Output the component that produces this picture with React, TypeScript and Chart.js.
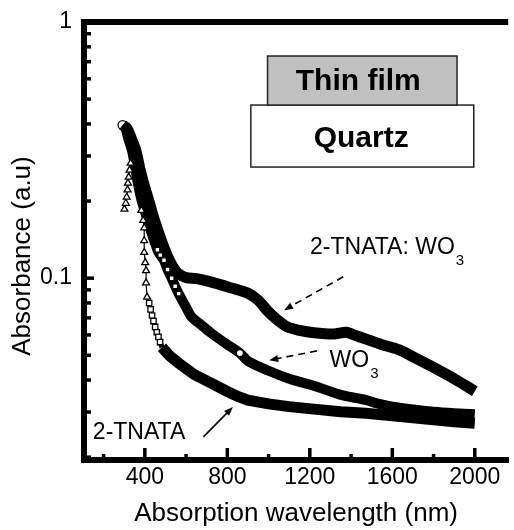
import React, { useEffect, useRef } from 'react';
import { Chart, registerables } from 'chart.js';

Chart.register(...registerables);

// ---- data (wavelength nm, absorbance a.u.) ----
const TNATA_WO3_X = [292, 313, 335, 356, 375, 394, 420, 442, 470, 497, 520, 545, 565, 600, 650, 741, 820, 899, 950, 995, 1040, 1091, 1150, 1220, 1316, 1378, 1420, 1473, 1550, 1631, 1713, 1800, 1900, 2000];
const TNATA_WO3_Y = [0.396, 0.385, 0.35, 0.316, 0.27, 0.235, 0.2, 0.173, 0.148, 0.129, 0.117, 0.108, 0.1037, 0.1005, 0.0995, 0.0956, 0.0915, 0.0874, 0.082, 0.0745, 0.069, 0.0645, 0.0625, 0.0612, 0.0605, 0.0615, 0.0598, 0.0578, 0.055, 0.0526, 0.0487, 0.0448, 0.0405, 0.0362];

const WO3_X = [292, 304, 320, 337, 350, 366, 385, 409, 435, 461, 475, 493, 510, 530, 547, 564, 600, 627, 670, 722, 800, 861, 899, 1000, 1100, 1220, 1350, 1470, 1520, 1600, 1700, 1800, 1900, 2000];
const WO3_Y = [0.396, 0.389, 0.35, 0.316, 0.28, 0.235, 0.2, 0.173, 0.148, 0.129, 0.123, 0.1175, 0.108, 0.1, 0.093, 0.087, 0.077, 0.0705, 0.066, 0.061, 0.055, 0.051, 0.0475, 0.0435, 0.0405, 0.038, 0.035, 0.0335, 0.0325, 0.0315, 0.0307, 0.0301, 0.0297, 0.0294];

const TNATA_X = [301, 308, 312, 316, 318, 322, 326, 331, 345, 360, 372, 383, 392, 397, 397, 397, 402, 406, 406, 411, 421, 428, 435, 442, 450, 458, 466, 474, 483, 520, 564, 640, 722, 800, 851, 900, 1000, 1100, 1220, 1350, 1473, 1600, 1700, 1800, 1900, 2000];
const TNATA_Y = [0.186, 0.196, 0.207, 0.221, 0.235, 0.248, 0.264, 0.281, 0.255, 0.225, 0.2, 0.184, 0.168, 0.157, 0.14, 0.126, 0.115, 0.107, 0.0958, 0.0843, 0.08, 0.0755, 0.0715, 0.068, 0.0645, 0.0615, 0.059, 0.0563, 0.0537, 0.0498, 0.0466, 0.042, 0.0389, 0.0361, 0.0345, 0.0334, 0.0323, 0.0315, 0.0308, 0.0301, 0.0297, 0.029, 0.0285, 0.028, 0.0275, 0.0271];

// ---- axes ----
const X_MIN = 105;
const X_MAX = 2162;
const Y_MIN = 0.0195;
const Y_MAX = 1;
const X_TICKS = [200, 400, 600, 800, 1000, 1200, 1400, 1600, 1800, 2000];
const X_LABELED = [400, 800, 1200, 1600, 2000];
const Y_TICKS = [0.02, 0.03, 0.04, 0.05, 0.06, 0.07, 0.08, 0.09, 0.1, 0.2, 0.3, 0.4, 0.5, 0.6, 0.7, 0.8, 0.9, 1];
const Y_LABELED = [0.1, 1];

const X_TITLE = 'Absorption wavelength (nm)';
const Y_TITLE = 'Absorbance (a.u)';

const FONT = '"Liberation Sans", Arial, Helvetica, sans-serif';

// ---- annotations (in data coordinates) ----
const BOXES = [
  { x0: 914, x1: 1995, y0: 0.474, y1: 0.2715, fill: '#ffffff', label: 'Quartz', lx: 1449, ly: 0.3248 },
  { x0: 995, x1: 1914, y0: 0.7366, y1: 0.474, fill: '#c0c0c0', label: 'Thin film', lx: 1435, ly: 0.5425 },
];
const LABELS = [
  { text: '2-TNATA: WO', sub: '3', x: 1201, y: 0.1241 },
  { text: 'WO', sub: '3', x: 1296, y: 0.0449 },
  { text: '2-TNATA', sub: '', x: 148, y: 0.0235 },
];
const ARROWS = [
  { x0: 1362, y0: 0.1012, x1: 1075, y1: 0.075, dashed: true },
  { x0: 1234, y0: 0.052, x1: 1003, y1: 0.0478, dashed: true },
  { x0: 684, y0: 0.024, x1: 827, y1: 0.0314, dashed: false },
];

const toPoints = (xs: number[], ys: number[]) => xs.map((x, i) => ({ x, y: ys[i] }));

const decorPlugin = {
  id: 'decor',
  afterDraw(chart: any) {
    const { ctx, chartArea, scales } = chart;
    const xs = scales.x;
    const ys = scales.y;
    const px = (v: number) => xs.getPixelForValue(v);
    const py = (v: number) => ys.getPixelForValue(v);
    const { left, top, right, bottom } = chartArea;
    ctx.save();

    // top frame line
    ctx.strokeStyle = '#000';
    ctx.lineWidth = 6;
    ctx.beginPath();
    ctx.moveTo(left - 3, top);
    ctx.lineTo(right, top);
    ctx.stroke();

    // inward ticks
    ctx.lineWidth = 3.5;
    for (const t of ys.ticks) {
      const y = py(t.value);
      const len = Y_LABELED.includes(t.value) ? 10 : 7;
      ctx.beginPath();
      ctx.moveTo(left, y);
      ctx.lineTo(left + len, y);
      ctx.stroke();
    }
    for (const t of xs.ticks) {
      const x = px(t.value);
      const len = X_LABELED.includes(t.value) ? 12 : 6;
      ctx.beginPath();
      ctx.moveTo(x, bottom);
      ctx.lineTo(x, bottom - len);
      ctx.stroke();
    }

    // boxes
    for (const b of BOXES) {
      const x0 = px(b.x0), x1 = px(b.x1), y0 = py(b.y0), y1 = py(b.y1);
      ctx.fillStyle = b.fill;
      ctx.fillRect(x0, y0, x1 - x0, y1 - y0);
      ctx.strokeStyle = '#222';
      ctx.lineWidth = 1.5;
      ctx.strokeRect(x0, y0, x1 - x0, y1 - y0);
      ctx.fillStyle = '#000';
      ctx.font = `bold 30px ${FONT}`;
      ctx.textAlign = 'center';
      ctx.textBaseline = 'alphabetic';
      ctx.fillText(b.label, px(b.lx), py(b.ly));
    }

    // labels with subscripts
    ctx.fillStyle = '#000';
    ctx.textAlign = 'left';
    ctx.textBaseline = 'alphabetic';
    for (const l of LABELS) {
      const x = px(l.x), y = py(l.y);
      ctx.font = `23px ${FONT}`;
      ctx.fillText(l.text, x, y);
      if (l.sub) {
        const w = ctx.measureText(l.text).width;
        ctx.font = `15px ${FONT}`;
        ctx.fillText(l.sub, x + w + 1, y + 11);
      }
    }

    // arrows
    for (const a of ARROWS) {
      const x0 = px(a.x0), y0 = py(a.y0), x1 = px(a.x1), y1 = py(a.y1);
      const ang = Math.atan2(y1 - y0, x1 - x0);
      const head = 9;
      ctx.strokeStyle = '#000';
      ctx.lineWidth = 1.6;
      ctx.setLineDash(a.dashed ? [7, 5] : []);
      ctx.beginPath();
      ctx.moveTo(x0, y0);
      ctx.lineTo(x1 - Math.cos(ang) * head * 0.8, y1 - Math.sin(ang) * head * 0.8);
      ctx.stroke();
      ctx.setLineDash([]);
      ctx.fillStyle = '#000';
      ctx.beginPath();
      ctx.moveTo(x1, y1);
      ctx.lineTo(x1 - head * Math.cos(ang) + 3.5 * Math.sin(ang), y1 - head * Math.sin(ang) - 3.5 * Math.cos(ang));
      ctx.lineTo(x1 - head * Math.cos(ang) - 3.5 * Math.sin(ang), y1 - head * Math.sin(ang) + 3.5 * Math.cos(ang));
      ctx.closePath();
      ctx.fill();
    }

    // y axis title
    ctx.save();
    ctx.translate(left - 61, (top + bottom) / 2 + 15);
    ctx.rotate(-Math.PI / 2);
    ctx.font = `26px ${FONT}`;
    ctx.textAlign = 'center';
    ctx.textBaseline = 'middle';
    ctx.fillStyle = '#000';
    ctx.fillText(Y_TITLE, 0, 0);
    ctx.restore();

    ctx.restore();
  },
};

export default function App() {
  const ref = useRef<HTMLCanvasElement>(null);
  useEffect(() => {
    const canvas = ref.current;
    if (!canvas) return;
    const chart = new Chart(canvas, {
      type: 'line',
      data: {
        datasets: [
          {
            label: '2-TNATA',
            data: toPoints(TNATA_X, TNATA_Y),
            borderColor: '#000',
            borderWidth: 11,
            tension: 0,
            segment: {
              borderWidth: (c: any) => {
                const x = TNATA_X[c.p1DataIndex];
                return x <= 450 ? 1.2 : x <= 483 ? 5 : 11;
              },
            },
            pointStyle: (c: any) => ((TNATA_X[c.dataIndex] ?? 0) < 415 ? 'triangle' : 'rect'),
            pointRadius: (c: any) => {
              const x = TNATA_X[c.dataIndex];
              if (x === undefined) return 0;
              if (x <= 331 || (x >= 383 && x < 415)) return 4;
              if (x >= 415 && x < 483) return 3.8;
              return 0;
            },
            pointBackgroundColor: '#fff',
            pointBorderColor: '#000',
            pointBorderWidth: 1.3,
          },
          {
            label: 'WO3',
            data: toPoints(WO3_X, WO3_Y),
            borderColor: '#000',
            borderWidth: 10,
            tension: 0.3,
            pointStyle: (c: any) => ((WO3_X[c.dataIndex] ?? 0) > 800 ? 'circle' : 'rect'),
            pointRadius: (c: any) => {
              const x = WO3_X[c.dataIndex];
              if (x === undefined) return 0;
              if (x >= 461 && x <= 564) return 3.3;
              if (x === 861) return 3.5;
              return 0;
            },
            pointBackgroundColor: '#fff',
            pointBorderColor: '#000',
            pointBorderWidth: 1.2,
          },
          {
            label: '2-TNATA: WO3',
            data: toPoints(TNATA_WO3_X, TNATA_WO3_Y),
            borderColor: '#000',
            borderWidth: 11,
            tension: 0.3,
            pointStyle: 'circle',
            pointRadius: (c: any) => (c.dataIndex === 0 ? 4.5 : 0),
            pointBackgroundColor: '#fff',
            pointBorderColor: '#000',
            pointBorderWidth: 1.3,
          },
        ],
      },
      options: {
        responsive: false,
        animation: false,
        events: [],
        layout: { padding: { top: 22, left: 0, right: 0, bottom: 0 } },
        plugins: { legend: { display: false }, tooltip: { enabled: false } },
        scales: {
          x: {
            type: 'linear',
            min: X_MIN,
            max: X_MAX,
            afterBuildTicks: (s: any) => {
              s.ticks = X_TICKS.map((v) => ({ value: v }));
            },
            afterFit: (s: any) => {
              s.height = 70;
              s.paddingLeft = 0;
              s.paddingRight = 0;
            },
            grid: { display: true, drawOnChartArea: false, drawTicks: false },
            border: { display: true, color: '#000', width: 6 },
            ticks: {
              autoSkip: false,
              maxRotation: 0,
              padding: 4,
              color: '#000',
              font: { family: FONT, size: 23 },
              callback: (v: any) => (X_LABELED.includes(Number(v)) ? String(v) : ''),
            },
            title: {
              display: true,
              text: X_TITLE,
              color: '#000',
              font: { family: FONT, size: 26 },
              padding: { top: 0, bottom: 1 },
            },
          },
          y: {
            type: 'logarithmic',
            min: Y_MIN,
            max: Y_MAX,
            afterBuildTicks: (s: any) => {
              s.ticks = Y_TICKS.map((v) => ({ value: v }));
            },
            afterFit: (s: any) => {
              s.width = 84;
              s.paddingTop = 0;
              s.paddingBottom = 0;
            },
            grid: { display: true, drawOnChartArea: false, drawTicks: false },
            border: { display: true, color: '#000', width: 6 },
            ticks: {
              autoSkip: false,
              padding: 12,
              color: '#000',
              font: { family: FONT, size: 23 },
              callback: (v: any) => (Y_LABELED.includes(Number(v)) ? String(v) : ''),
            },
            title: { display: false },
          },
        },
      },
      plugins: [decorPlugin],
    } as any);
    return () => chart.destroy();
  }, []);
  return (
    <div style={{ position: 'fixed', left: 0, top: 0, width: 514, height: 530, background: '#fff' }}>
      <canvas ref={ref} width={514} height={530} style={{ display: 'block' }} />
    </div>
  );
}
